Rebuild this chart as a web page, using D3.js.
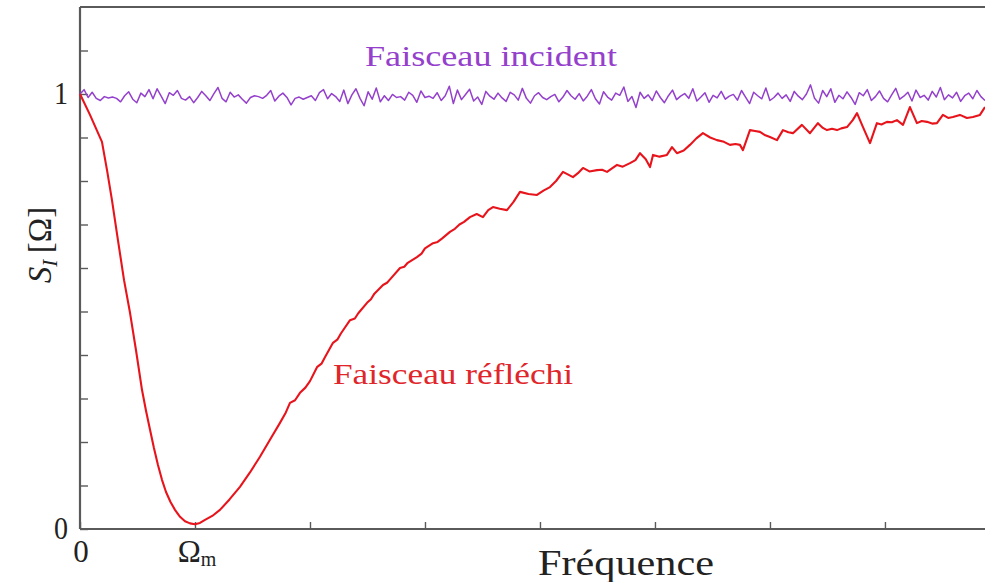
<!DOCTYPE html>
<html>
<head>
<meta charset="utf-8">
<script src="https://cdn.jsdelivr.net/npm/d3@7"></script>
<style>
  html, body { margin: 0; padding: 0; background: #fff; }
  svg { display: block; }
  text { font-family: "Liberation Serif", "DejaVu Serif", serif; }
</style>
</head>
<body>
<svg id="chart" width="985" height="582"></svg>
<script>
// ---------- DATA ----------
// Reflected beam noise spectrum (frequency in tick units, S_I normalised)
const reflectedFreq = [0, 0.087, 0.191, 0.235, 0.278, 0.330, 0.383, 0.435, 0.487, 0.539, 0.574, 0.609, 0.643, 0.678, 0.713, 0.748, 0.787, 0.826, 0.870, 0.913, 0.957, 1.0, 1.043, 1.087, 1.150, 1.217, 1.300, 1.391, 1.478, 1.565, 1.652, 1.739, 1.790, 1.826, 1.870, 1.913, 1.960, 2.0, 2.061, 2.100, 2.130, 2.2, 2.240, 2.270, 2.348, 2.390, 2.420, 2.496, 2.530, 2.560, 2.635, 2.670, 2.700, 2.783, 2.820, 2.850, 2.930, 2.970, 3.0, 3.070, 3.110, 3.150, 3.217, 3.260, 3.300, 3.340, 3.391, 3.450, 3.504, 3.550, 3.591, 3.650, 3.713, 3.770, 3.826, 3.900, 3.974, 4.030, 4.087, 4.140, 4.2, 4.287, 4.330, 4.374, 4.430, 4.496, 4.540, 4.583, 4.670, 4.720, 4.783, 4.830, 4.870, 4.920, 4.957, 4.983, 5.040, 5.104, 5.148, 5.191, 5.250, 5.304, 5.360, 5.417, 5.480, 5.539, 5.600, 5.652, 5.700, 5.739, 5.765, 5.826, 5.870, 5.913, 5.960, 6.0, 6.061, 6.113, 6.160, 6.2, 6.278, 6.348, 6.417, 6.460, 6.496, 6.540, 6.583, 6.620, 6.670, 6.720, 6.757, 6.809, 6.870, 6.930, 6.970, 7.017, 7.060, 7.104, 7.157, 7.217, 7.278, 7.320, 7.365, 7.410, 7.452, 7.504, 7.550, 7.591, 7.652, 7.713, 7.765, 7.826, 7.870];
const reflectedValues = [1.0, 0.952, 0.890, 0.825, 0.756, 0.664, 0.572, 0.497, 0.411, 0.320, 0.272, 0.228, 0.186, 0.147, 0.113, 0.085, 0.062, 0.044, 0.028, 0.018, 0.013, 0.011, 0.014, 0.021, 0.030, 0.044, 0.068, 0.097, 0.130, 0.166, 0.205, 0.244, 0.268, 0.290, 0.296, 0.313, 0.325, 0.340, 0.372, 0.380, 0.395, 0.428, 0.436, 0.450, 0.480, 0.484, 0.496, 0.520, 0.528, 0.541, 0.561, 0.566, 0.575, 0.600, 0.603, 0.612, 0.625, 0.633, 0.645, 0.657, 0.660, 0.668, 0.683, 0.690, 0.700, 0.706, 0.717, 0.724, 0.717, 0.733, 0.740, 0.736, 0.733, 0.752, 0.775, 0.770, 0.768, 0.778, 0.786, 0.800, 0.821, 0.809, 0.818, 0.830, 0.822, 0.825, 0.826, 0.821, 0.837, 0.833, 0.841, 0.848, 0.864, 0.850, 0.832, 0.860, 0.856, 0.860, 0.878, 0.864, 0.870, 0.883, 0.898, 0.910, 0.900, 0.894, 0.890, 0.883, 0.885, 0.883, 0.871, 0.917, 0.915, 0.913, 0.905, 0.901, 0.894, 0.917, 0.912, 0.910, 0.929, 0.910, 0.933, 0.922, 0.917, 0.920, 0.917, 0.921, 0.924, 0.940, 0.956, 0.924, 0.887, 0.933, 0.930, 0.936, 0.935, 0.940, 0.929, 0.970, 0.933, 0.938, 0.936, 0.932, 0.933, 0.952, 0.945, 0.947, 0.952, 0.945, 0.947, 0.952, 0.970];

// Incident beam (shot-noise level ~1), sampled evenly from 0 to the axis end
const incidentValues = [
  1.000, 1.010, 0.992, 1.004, 0.990, 0.985, 0.994, 0.991, 0.993, 0.990,
  0.982, 0.996, 1.005, 0.988, 0.980, 1.002, 0.994, 1.010, 0.989, 1.012,
  0.995, 0.978, 1.003, 0.997, 1.008, 0.990, 0.986, 0.994, 0.980, 0.992,
  1.006, 0.996, 0.985, 1.001, 1.015, 0.990, 0.982, 1.004, 0.993, 0.998,
  0.988, 0.979, 0.992, 0.996, 0.994, 0.990, 0.997, 1.008, 0.984, 0.995,
  1.002, 0.992, 0.975, 0.990, 0.993, 0.988, 0.992, 0.996, 0.985, 1.003,
  1.010, 0.989, 1.001, 0.994, 0.983, 1.009, 0.978, 0.998, 1.012, 0.990,
  0.973, 1.005, 0.988, 1.014, 0.982, 0.996, 0.985, 0.999, 0.992, 0.994,
  0.986, 1.004, 0.997, 0.981, 1.007, 0.992, 0.995, 0.990, 1.003, 0.985,
  0.996, 1.018, 0.978, 1.009, 0.987, 0.999, 1.011, 0.984, 0.993, 0.976,
  1.006, 0.995, 0.988, 1.002, 0.991, 0.983, 1.004, 0.998, 0.986, 1.013,
  0.990, 0.979, 0.996, 1.003, 0.992, 0.987, 0.994, 0.999, 0.982, 0.993,
  1.008, 0.996, 0.988, 1.001, 0.984, 0.995, 1.010, 0.989, 0.977, 1.005,
  0.993, 0.986, 1.002, 0.997, 1.016, 0.983, 0.994, 0.969, 1.004, 0.990,
  0.998, 0.985, 1.007, 0.992, 0.980, 0.996, 1.009, 0.987, 0.995, 1.001,
  0.990, 1.012, 0.984, 0.993, 1.003, 0.981, 0.997, 0.991, 1.006, 0.988,
  0.995, 0.999, 0.986, 1.008, 0.993, 0.978, 1.004, 0.996, 0.989, 1.014,
  0.985, 0.992, 1.002, 0.990, 0.998, 0.983, 1.006, 0.995, 0.987, 1.000,
  1.021, 0.990, 0.979, 1.008, 0.994, 1.012, 0.981, 0.997, 0.989, 1.005,
  0.992, 0.976, 1.003, 0.996, 1.010, 0.985, 0.994, 1.007, 0.990, 0.982,
  0.998, 1.013, 0.988, 0.995, 1.004, 0.984, 1.009, 0.992, 0.997, 0.986,
  1.006, 0.993, 1.015, 0.987, 0.998, 0.991, 1.004, 0.983, 0.996, 1.002,
  0.989, 1.008, 0.994, 0.985
];

const xTicks = [0, 1, 2, 3, 4, 5, 6, 7];
const xTickLabels = ["0", "Ω", "", "", "", "", "", ""];
const yTicks = [0, 0.1, 0.2, 0.3, 0.4, 0.5, 0.6, 0.7, 0.8, 0.9, 1.0, 1.1];
const yTickLabels = {"0": "0", "1": "1"};
const xDomain = [0, 7.87];
const yDomain = [0, 1.2];

// ---------- CHART ----------
const svg = d3.select("#chart");
const x = d3.scaleLinear().domain(xDomain).range([80, 985]);
const y = d3.scaleLinear().domain(yDomain).range([529, 7]);

const axisColor = "#5a5a5a";

// top border
svg.append("line")
  .attr("x1", x(0)).attr("x2", x(xDomain[1]))
  .attr("y1", y(yDomain[1])).attr("y2", y(yDomain[1]))
  .attr("stroke", axisColor).attr("stroke-width", 2);

// y axis (ticks pointing inward)
const yAxis = svg.append("g").attr("transform", `translate(${x(0)},0)`)
  .call(d3.axisLeft(y).tickValues(yTicks).tickSize(-8).tickFormat(""));
yAxis.select(".domain").attr("stroke", axisColor).attr("stroke-width", 2.2).attr("d", `M0,${y(yDomain[1])}V${y(0)}`);
yAxis.selectAll(".tick line").attr("stroke", axisColor).attr("stroke-width", 1.4);

// x axis
const xAxis = svg.append("g").attr("transform", `translate(0,${y(0)})`)
  .call(d3.axisBottom(x).tickValues(xTicks).tickSize(-7).tickFormat(""));
xAxis.select(".domain").attr("stroke", axisColor).attr("stroke-width", 2.2).attr("d", `M${x(0)},0H${x(xDomain[1])}`);
xAxis.selectAll(".tick line").attr("stroke", axisColor).attr("stroke-width", 1.4);

// y tick labels
yTicks.forEach(t => {
  const lab = yTickLabels[String(t)];
  if (!lab) return;
  svg.append("text").attr("x", x(0) - 12).attr("y", y(t) + 10)
    .attr("text-anchor", "end").attr("font-size", 31).attr("fill", "#222")
    .attr("textLength", 14).attr("lengthAdjust", "spacingAndGlyphs")
    .text(lab);
});

// x tick labels
xTicks.forEach((t, i) => {
  const lab = xTickLabels[i];
  if (!lab) return;
  const tx = svg.append("text").attr("x", x(t)).attr("y", 562)
    .attr("text-anchor", "middle").attr("font-size", 31).attr("fill", "#222");
  if (lab === "Ω") {
    tx.attr("x", x(t) + 2);
    tx.append("tspan").text("Ω");
    tx.append("tspan").attr("font-size", 20).attr("dy", 4).text("m");
  } else {
    tx.attr("x", x(t) + 1).text(lab);
  }
});

// axis titles
svg.append("text").attr("x", 626).attr("y", 575)
  .attr("text-anchor", "middle").attr("font-size", 35).attr("fill", "#222")
  .attr("textLength", 176).attr("lengthAdjust", "spacingAndGlyphs")
  .text("Fréquence");

const yl = svg.append("text")
  .attr("transform", "translate(51,245) rotate(-90)")
  .attr("text-anchor", "middle").attr("font-size", 33).attr("fill", "#222");
yl.append("tspan").attr("font-style", "italic").text("S");
yl.append("tspan").attr("font-style", "italic").attr("font-size", 21).attr("dy", 6).text("I");
yl.append("tspan").attr("dy", -6).text("\u2009[Ω]");

// lines
const incidentStep = xDomain[1] / (incidentValues.length - 1);
const incidentData = incidentValues.map((v, i) => ({f: i * incidentStep, v}));
const reflectedData = reflectedFreq.map((f, i) => ({f, v: reflectedValues[i]}));

const line = d3.line().x(d => x(d.f)).y(d => y(d.v));

svg.append("path").datum(incidentData)
  .attr("d", line).attr("fill", "none")
  .attr("stroke", "#9440cc").attr("stroke-width", 1.5).attr("stroke-linejoin", "round");

svg.append("path").datum(reflectedData)
  .attr("d", line).attr("fill", "none")
  .attr("stroke", "#e8141c").attr("stroke-width", 2.1).attr("stroke-linejoin", "round");

// series labels
svg.append("text").attr("x", 365).attr("y", 66)
  .attr("font-size", 30).attr("fill", "#9440cc")
  .attr("textLength", 252).attr("lengthAdjust", "spacingAndGlyphs")
  .text("Faisceau incident");

svg.append("text").attr("x", 333).attr("y", 384)
  .attr("font-size", 30).attr("fill", "#e0262b")
  .attr("textLength", 240).attr("lengthAdjust", "spacingAndGlyphs")
  .text("Faisceau réfléchi");
</script>
</body>
</html>
